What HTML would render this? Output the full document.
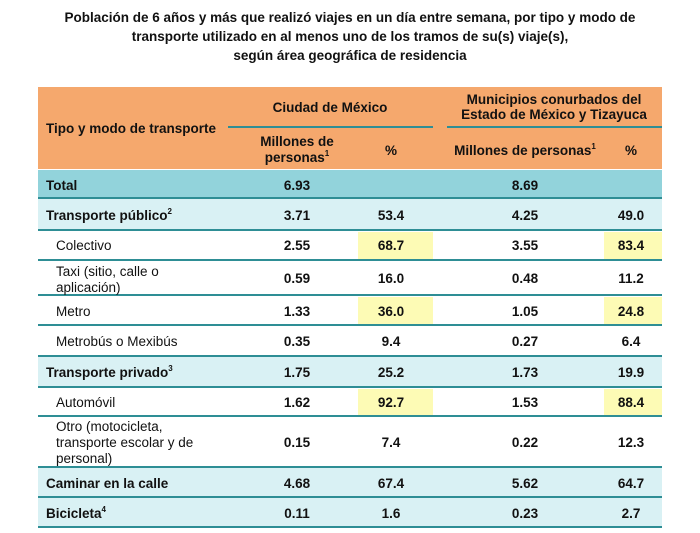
<!DOCTYPE html>
<html><head><meta charset="utf-8"><style>
body{margin:0;background:#fff;width:700px;height:533px;overflow:hidden;font-family:"Liberation Sans",sans-serif;color:#111}
.t{position:absolute;left:0;width:700px;text-align:center;font-weight:bold;font-size:13.5px;line-height:19px;top:8px}
.r{position:absolute;left:38px;width:624px;border-bottom:2px solid #2e8e95;box-sizing:border-box}
.c{position:absolute;font-size:13.5px;line-height:16px;text-align:center;transform:translateX(-50%);white-space:nowrap}
.l{position:absolute;font-size:13.5px;line-height:16px}
.b{font-weight:bold}
.y{position:absolute;background:#fdfbb5}
sup{font-size:8px;line-height:0;vertical-align:baseline;position:relative;top:-6px}
</style></head><body>
<div class="t">Población de 6 años y más que realizó viajes en un día entre semana, por tipo y modo de<br>transporte utilizado en al menos uno de los tramos de su(s) viaje(s),<br>según área geográfica de residencia</div>
<div style="position:absolute;left:38px;top:87px;width:624px;height:82px;background:#f5a86d"></div>
<div style="position:absolute;left:228px;top:126px;width:205px;height:2px;background:#2e8e95"></div>
<div style="position:absolute;left:447px;top:126px;width:215px;height:2px;background:#2e8e95"></div>
<div class="l b" style="left:46px;top:121px">Tipo y modo de transporte</div>
<div class="c b" style="left:330px;top:100px">Ciudad de México</div>
<div class="c b" style="left:554px;top:92px;line-height:15px">Municipios conurbados del<br>Estado de México y Tizayuca</div>
<div class="c b" style="left:297px;top:134px;line-height:16px">Millones de<br>personas<sup>1</sup></div>
<div class="c b" style="left:391px;top:143px">%</div>
<div class="c b" style="left:525px;top:143px">Millones de personas<sup>1</sup></div>
<div class="c b" style="left:631px;top:143px">%</div>

<div class="r" style="top:170px;height:29px;background:#92d3db"></div>
<div class="r" style="top:199px;height:32px;background:#d9f1f4"></div>
<div class="r" style="top:231px;height:30px"></div>
<div class="r" style="top:261px;height:35px"></div>
<div class="r" style="top:296px;height:30px"></div>
<div class="r" style="top:326px;height:31px"></div>
<div class="r" style="top:357px;height:31px;background:#d9f1f4"></div>
<div class="r" style="top:388px;height:29px"></div>
<div class="r" style="top:417px;height:51px"></div>
<div class="r" style="top:468px;height:30px;background:#d9f1f4"></div>
<div class="r" style="top:498px;height:30px;background:#d9f1f4"></div>

<div class="y" style="left:358px;top:232px;width:75px;height:27px"></div>
<div class="y" style="left:604px;top:232px;width:58px;height:27px"></div>
<div class="y" style="left:358px;top:297px;width:75px;height:27px"></div>
<div class="y" style="left:604px;top:297px;width:58px;height:27px"></div>
<div class="y" style="left:358px;top:389px;width:75px;height:26px"></div>
<div class="y" style="left:604px;top:389px;width:58px;height:26px"></div>

<div class="l b" style="left:46px;top:178px">Total</div>
<div class="c b" style="left:297px;top:178px">6.93</div><div class="c b" style="left:525px;top:178px">8.69</div>

<div class="l b" style="left:46px;top:208px">Transporte público<sup>2</sup></div>
<div class="c b" style="left:297px;top:208px">3.71</div><div class="c b" style="left:391px;top:208px">53.4</div><div class="c b" style="left:525px;top:208px">4.25</div><div class="c b" style="left:631px;top:208px">49.0</div>

<div class="l" style="left:56px;top:238px">Colectivo</div>
<div class="c b" style="left:297px;top:238px">2.55</div><div class="c b" style="left:391px;top:238px">68.7</div><div class="c b" style="left:525px;top:238px">3.55</div><div class="c b" style="left:631px;top:238px">83.4</div>

<div class="l" style="left:56px;top:264px">Taxi (sitio, calle o<br>aplicación)</div>
<div class="c b" style="left:297px;top:271px">0.59</div><div class="c b" style="left:391px;top:271px">16.0</div><div class="c b" style="left:525px;top:271px">0.48</div><div class="c b" style="left:631px;top:271px">11.2</div>

<div class="l" style="left:56px;top:304px">Metro</div>
<div class="c b" style="left:297px;top:304px">1.33</div><div class="c b" style="left:391px;top:304px">36.0</div><div class="c b" style="left:525px;top:304px">1.05</div><div class="c b" style="left:631px;top:304px">24.8</div>

<div class="l" style="left:56px;top:334px">Metrobús o Mexibús</div>
<div class="c b" style="left:297px;top:334px">0.35</div><div class="c b" style="left:391px;top:334px">9.4</div><div class="c b" style="left:525px;top:334px">0.27</div><div class="c b" style="left:631px;top:334px">6.4</div>

<div class="l b" style="left:46px;top:365px">Transporte privado<sup>3</sup></div>
<div class="c b" style="left:297px;top:365px">1.75</div><div class="c b" style="left:391px;top:365px">25.2</div><div class="c b" style="left:525px;top:365px">1.73</div><div class="c b" style="left:631px;top:365px">19.9</div>

<div class="l" style="left:56px;top:395px">Automóvil</div>
<div class="c b" style="left:297px;top:395px">1.62</div><div class="c b" style="left:391px;top:395px">92.7</div><div class="c b" style="left:525px;top:395px">1.53</div><div class="c b" style="left:631px;top:395px">88.4</div>

<div class="l" style="left:56px;top:419px">Otro (motocicleta,<br>transporte escolar y de<br>personal)</div>
<div class="c b" style="left:297px;top:435px">0.15</div><div class="c b" style="left:391px;top:435px">7.4</div><div class="c b" style="left:525px;top:435px">0.22</div><div class="c b" style="left:631px;top:435px">12.3</div>

<div class="l b" style="left:46px;top:476px">Caminar en la calle</div>
<div class="c b" style="left:297px;top:476px">4.68</div><div class="c b" style="left:391px;top:476px">67.4</div><div class="c b" style="left:525px;top:476px">5.62</div><div class="c b" style="left:631px;top:476px">64.7</div>

<div class="l b" style="left:46px;top:506px">Bicicleta<sup>4</sup></div>
<div class="c b" style="left:297px;top:506px">0.11</div><div class="c b" style="left:391px;top:506px">1.6</div><div class="c b" style="left:525px;top:506px">0.23</div><div class="c b" style="left:631px;top:506px">2.7</div>
</body></html>
